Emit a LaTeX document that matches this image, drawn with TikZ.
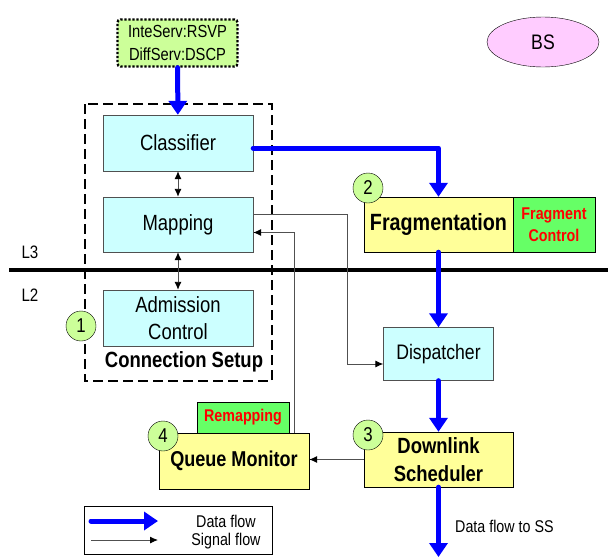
\documentclass[tikz,border=0pt]{standalone}
\usepackage{fontspec}
\setmainfont[FakeStretch=0.84]{Liberation Sans}
\usepackage{xcolor}
\definecolor{bscyan}{RGB}{204,255,255}
\definecolor{bsyellow}{RGB}{255,255,153}
\definecolor{bsgreen}{RGB}{102,255,102}
\definecolor{bslime}{RGB}{204,255,153}
\definecolor{bspink}{RGB}{255,204,255}
\definecolor{bsblue}{RGB}{0,0,255}
\definecolor{bsred}{RGB}{255,0,0}
\definecolor{bsgray}{RGB}{80,80,80}
\usetikzlibrary{arrows.meta, positioning, shapes.geometric}

\tikzset{
  cyanbox/.style={draw=bsgray, fill=bscyan, minimum width=150pt, minimum height=56pt, inner sep=0pt, align=center, font=\fontsize{22}{27}\selectfont},
  yelbox/.style={draw=black, fill=bsyellow, minimum width=149pt, minimum height=55pt, inner sep=0pt, align=center, font=\bfseries\fontsize{22}{28}\selectfont},
  grnbox/.style={draw=black, fill=bsgreen, inner sep=0pt, align=center, text=bsred, font=\bfseries\fontsize{17}{22}\selectfont},
  numdot/.style={circle, draw=black, fill=bslime, minimum size=30pt, inner sep=0pt, font=\fontsize{20}{20}\selectfont},
  lbl/.style={font=\fontsize{17}{20}\selectfont, inner sep=0pt},
  data/.style={draw=bsblue, line width=5pt, line cap=round, line join=round, -{Triangle[length=14pt,width=18pt]}},
  sig/.style={draw=bsgray, line width=0.9pt, -{Latex[length=8pt,width=7pt,color=black]}},
  sigboth/.style={draw=bsgray, line width=0.9pt, {Latex[length=8pt,width=7pt,color=black]}-{Latex[length=8pt,width=7pt,color=black]}}
}

\begin{document}
\begin{tikzpicture}[x=1pt, y=-1pt]
  \useasboundingbox (0,0) rectangle (608,557);

  % --- Layer border L3 / L2 ---
  \draw[line width=4pt] (9,270) -- (608,270);
  \node[lbl, font=\fontsize{18}{20}\selectfont] (l3) at (30,252) {L3};
  \node[lbl, font=\fontsize{18}{20}\selectfont] (l2) at (30,295) {L2};

  % --- Base station ---
  \node[ellipse, draw=black, fill=bspink, minimum width=112pt, minimum height=50pt, font=\fontsize{21}{21}\selectfont] (bs) at (543,42) {BS};

  % --- Connection Setup ---
  \draw[line width=1.8pt, dash pattern=on 10pt off 5pt] (85,104) rectangle (272,381);
  \node[draw=black, fill=bslime, line width=2.4pt, dash pattern=on 2.2pt off 1.8pt, rounded corners=3pt, minimum width=120pt, minimum height=47pt, inner sep=0pt, align=center, font=\fontsize{17.5}{23}\selectfont] (qos) at (177.5,43) {InteServ:RSVP\\DiffServ:DSCP};
  \node[cyanbox] (classifier) at (178,143) {Classifier};
  \node[cyanbox, minimum height=55pt] (mapping) at (178,224.5) {Mapping};
  \node[cyanbox] (admission) at (178,318) {Admission\\Control};
  \node[font=\bfseries\fontsize{22}{24}\selectfont, inner sep=0pt] (setup) at (184,362) {Connection Setup};
  \node[numdot] (n1) at (81,326) {1};

  % --- Fragmentation ---
  \node[yelbox, font=\bfseries\fontsize{23.5}{28}\selectfont] (frag) at (438.5,224.5) {Fragmentation};
  \node[grnbox, minimum width=82pt, minimum height=55pt] (fragctl) at (554,224.5) {Fragment\\Control};
  \node[numdot] (n2) at (368,188) {2};

  % --- Dispatcher ---
  \node[cyanbox, minimum width=110pt, minimum height=53pt, font=\fontsize{21}{25}\selectfont] (disp) at (438.5,354) {Dispatcher};

  % --- Downlink Scheduler ---
  \node[yelbox] (sched) at (438.5,459.5) {Downlink\\Scheduler};
  \node[numdot] (n3) at (368,435) {3};

  % --- Queue Monitor ---
  \node[grnbox, minimum width=92pt, minimum height=31pt] (remap) at (243,417.5) {Remapping};
  \node[yelbox, minimum width=150pt, minimum height=56pt, font=\bfseries\fontsize{21.5}{26}\selectfont] (qmon) at (234,461) {Queue Monitor};
  \node[numdot] (n4) at (163,436) {4};

  % Data flow
  \coordinate (ss) at (438.5,557);
  \draw[data] (qos) -- (classifier);
  \draw[data] ([yshift=-5pt]classifier.east) -| (frag.north);
  \draw[data] (frag) -- (disp);
  \draw[data] (disp) -- (sched);
  \draw[data] (sched) -- (ss);
  \node[lbl, anchor=west] (sslbl) at (455,526) {Data flow to SS};

  % Signal flow
  \draw[sigboth] (classifier) -- (mapping);
  \draw[sigboth] (mapping) -- (admission);
  \draw[sig] ([yshift=10pt]mapping.east) -- ++(94,0) |- ([yshift=-10pt]disp.west);
  \draw[sig] ([xshift=60pt]qmon.north) |- ([yshift=-8pt]mapping.east);
  \draw[sig] (sched.west) -- (sched.west -| qmon.east);

  % --- Legend ---
  \draw[draw=black, line width=0.8pt] (84,506) rectangle (272,554);
  \coordinate (dataA) at (91,521);
  \coordinate (dataB) at (158,521);
  \coordinate (sigA) at (91,540);
  \coordinate (sigB) at (158,540);
  \draw[data] (dataA) -- (dataB);
  \draw[sig] (sigA) -- (sigB);
  \node[lbl] (datalbl) at (226,521) {Data flow};
  \node[lbl] (siglbl) at (226,541) {Signal flow};
\end{tikzpicture}
\end{document}
